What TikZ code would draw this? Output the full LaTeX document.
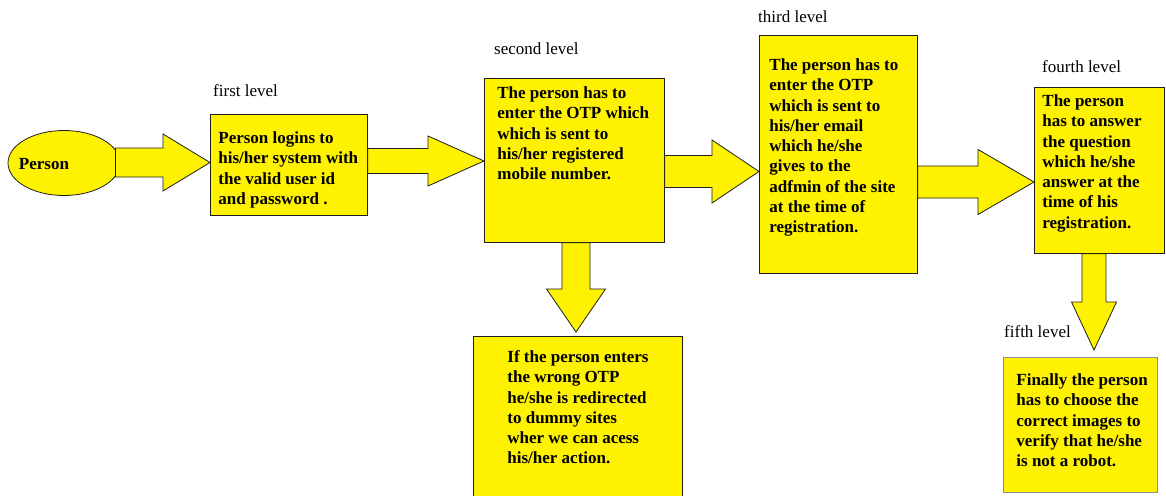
\documentclass[tikz,border=0pt]{standalone}
\usepackage{fontspec}
\setmainfont{Liberation Serif}
\usetikzlibrary{calc,shapes.geometric}
\definecolor{boxyellow}{RGB}{255,242,0}
\definecolor{edgedark}{RGB}{30,30,30}
\definecolor{edgegray}{RGB}{140,140,140}
\newcommand\hblockarrow[5]{% start, tip, shaft half width, head half width, head length
  \draw[blockarrow] ($(#1)+(0,#3)$) -- ($(#2)+(-#5,#3)$) -- ($(#2)+(-#5,#4)$) -- (#2)
    -- ($(#2)+(-#5,-#4)$) -- ($(#2)+(-#5,-#3)$) -- ($(#1)+(0,-#3)$) -- cycle;}
\newcommand\vblockarrow[5]{% start, tip, shaft half width, head half width, head length
  \draw[blockarrow] ($(#1)+(#3,0)$) -- ($(#2)+(#3,-#5)$) -- ($(#2)+(#4,-#5)$) -- (#2)
    -- ($(#2)+(-#4,-#5)$) -- ($(#2)+(-#3,-#5)$) -- ($(#1)+(-#3,0)$) -- cycle;}
\newcommand\boxtext[5]{% width, height, left pad, first baseline, text
  \parbox[c][#2pt][t]{#1pt}{\raggedright\leftskip=#3pt\relax
  \fontsize{17}{20.3}\selectfont\bfseries\rule{0pt}{#4pt}#5}}
\begin{document}
\begin{tikzpicture}[x=1pt,y=-1pt,
  blockarrow/.style={fill=boxyellow,draw=edgedark,line width=0.8pt,line join=miter},
  levelbox/.style={rectangle,fill=boxyellow,draw=edgedark,line width=0.8pt,inner sep=0pt,anchor=north west},
  levellabel/.style={inner sep=0pt,anchor=base west,font=\fontsize{17}{20}\selectfont}]
\useasboundingbox (0,0) rectangle (1166,495);
\clip (0,0) rectangle (1166,495);
\fill[white] (0,0) rectangle (1166,495);

% person
\node[ellipse,fill=boxyellow,draw=edgedark,line width=0.8pt,minimum width=112pt,minimum height=65pt,inner sep=0pt,
  font=\fontsize{17}{20}\selectfont\bfseries] (person) at (64,163)
  {\makebox[0pt]{\raisebox{-6pt}[0pt][0pt]{Person}\hspace*{40pt}}};

% boxes
\node[levelbox] (b1) at (210,114) {\boxtext{157}{101}{8}{29}{Person logins to\\his/her system with\\the valid user id\\and password .}};
\node[levelbox] (b2) at (484,78) {\boxtext{180}{164}{13}{20}{The person has to\\enter the OTP which\\which is sent to\\his/her registered\\mobile number.}};
\node[levelbox] (b3) at (759,35) {\boxtext{158}{238}{10}{35}{The person has to\\enter the OTP\\which is sent to\\his/her email\\which he/she\\gives to the\\adfmin of the site\\at the time of\\registration.}};
\node[levelbox] (b4) at (1034,87) {\boxtext{130}{166}{8}{19}{The person\\has to answer\\the question\\which he/she\\answer at the\\time of his\\registration.}};
\node[levelbox,draw=edgegray] (b5) at (1003,357) {\boxtext{154}{135}{13}{28}{Finally the person\\has to choose the\\correct images to\\verify that he/she\\is not a robot.}};
\node[levelbox] (b6) at (473,336) {\boxtext{209}{175}{34}{26}{If the person enters\\the wrong OTP\\he/she is redirected\\to dummy sites\\wher we can acess\\his/her action.}};

% labels
\node[levellabel] (l1) at (213,96) {first level};
\node[levellabel] (l2) at (494,55) {second level};
\node[levellabel] (l3) at (758,23) {third level};
\node[levellabel] (l4) at (1042,72) {fourth level};
\node[levellabel] (l5) at (1004,337) {fifth level};

% arrow end points
\coordinate (a1s) at ($(person.east)+(-5,-0.5)$);
\coordinate (a1t) at (b1.west |- a1s);
\coordinate (a2s) at (b1.east |- 0,161);
\coordinate (a2t) at (b2.west |- a2s);
\coordinate (a3s) at (b2.east |- 0,171.5);
\coordinate (a3t) at (b3.west |- a3s);
\coordinate (a4s) at (b3.east |- 0,182);
\coordinate (a4t) at (b4.west |- a4s);
\coordinate (d1s) at (b2.south -| 576,0);
\coordinate (d1t) at ($(b6.north -| 576,0)+(0,-4)$);
\coordinate (d2s) at (b4.south -| 1094,0);
\coordinate (d2t) at ($(b5.north -| 1094,0)+(0,-7)$);

% block arrows
\hblockarrow{a1s}{a1t}{14.5}{28.5}{47}
\hblockarrow{a2s}{a2t}{12.5}{25}{56}
\hblockarrow{a3s}{a3t}{16}{31.5}{47}
\hblockarrow{a4s}{a4t}{16}{32.5}{56}
\vblockarrow{d1s}{d1t}{14}{29.5}{43}
\vblockarrow{d2s}{d2t}{12}{22.5}{48}
\end{tikzpicture}
\end{document}
